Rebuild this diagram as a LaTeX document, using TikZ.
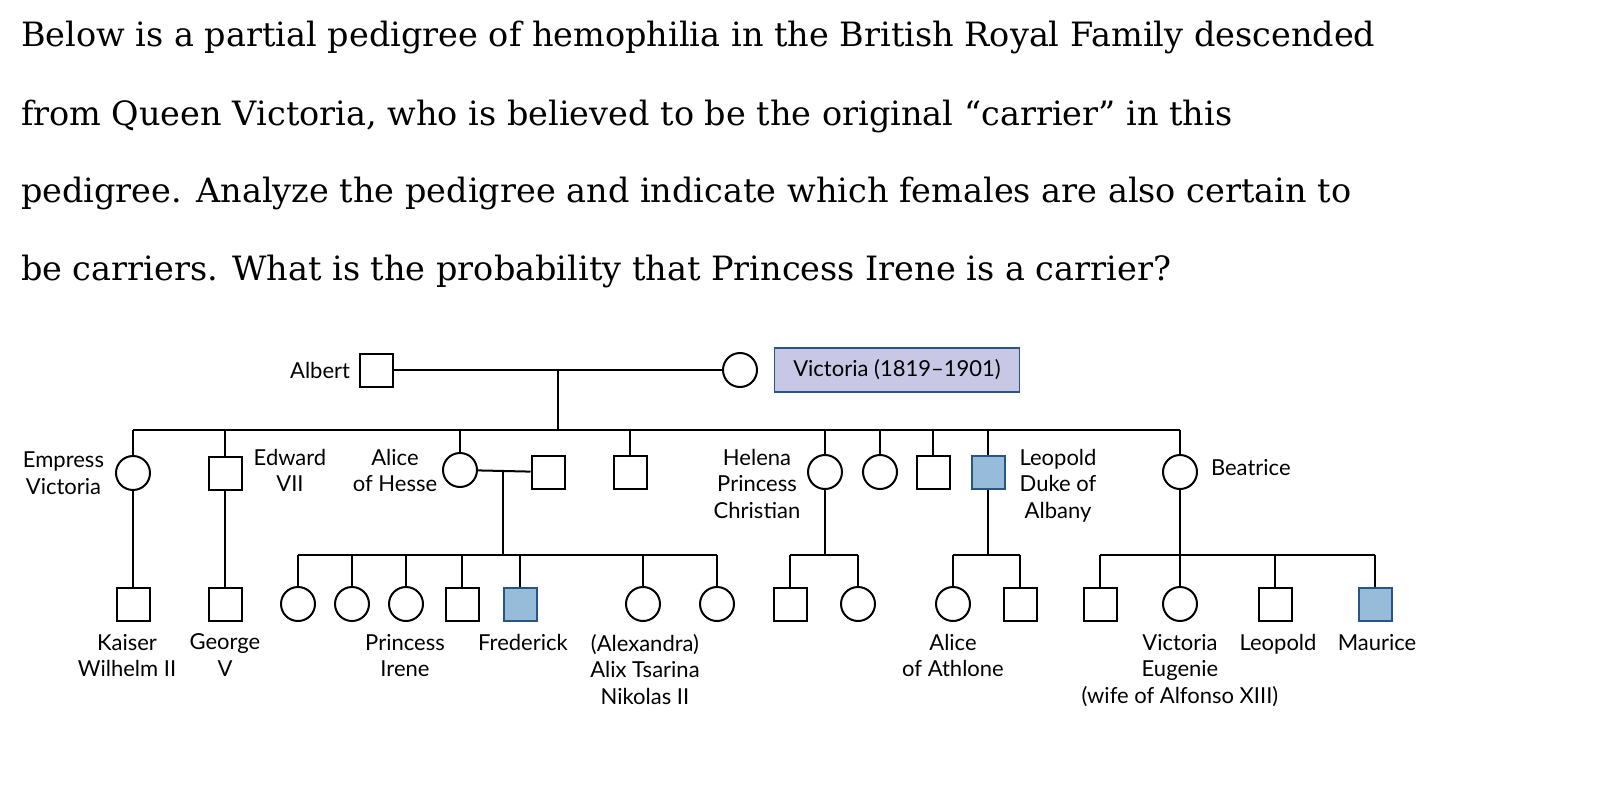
\documentclass[tikz,border=0pt]{standalone}
\usepackage{fontspec}
\setmainfont{DejaVu Serif}
\newfontfamily\lab{Lato}
\begin{document}
\begin{tikzpicture}[x=1pt,y=-1pt,line width=2pt,
  sq/.style={draw,minimum size=33pt,inner sep=0pt,fill=white},
  ci/.style={draw,circle,minimum size=34pt,inner sep=0pt,fill=white},
  aff/.style={sq,fill=aff,draw=affd},
  lb/.style={font=\lab\fontsize{22}{26.5}\selectfont,align=center,inner sep=0pt},
  tx/.style={anchor=base west,font=\fontsize{33.5}{36}\selectfont,inner sep=0pt}]
\definecolor{aff}{RGB}{150,188,218}
\definecolor{affd}{RGB}{40,85,135}
\definecolor{vbox}{RGB}{200,200,230}
\useasboundingbox (0,0) rectangle (1608,784);
\node[tx] (l1) at (20,47) {Below is a partial pedigree of hemophilia in the British Royal Family descended};
\node[tx] (l2) at (20,125) {from Queen Victoria, who is believed to be the original “carrier” in this};
\node[tx] (l3) at (20,202) {pedigree. Analyze the pedigree and indicate which females are also certain to};
\node[tx] (l4) at (20,280) {be carriers. What is the probability that Princess Irene is a carrier?};
\node[sq] (albert) at (376,370) {};
\node[ci] (vic) at (740,370) {};
\node[draw=affd,fill=vbox,line width=1.5pt,minimum width=245pt,minimum height=44pt,font=\lab\fontsize{22}{26}\selectfont] (vbx) at (897,370) {Victoria (1819–1901)};
\node[lb,anchor=east] (albl) at (351,370) {Albert};
\draw (albert) -- (vic);
\coordinate (m1) at (558,370);
\coordinate (s1) at (558,430);
\draw (m1) -- (s1);
\draw (133,430) -- (1180,430);
\node[ci] (ev) at (133,473) {};
\node[sq] (ed) at (225,473) {};
\node[ci] (al) at (460,470) {};
\node[sq] (alh) at (548,472) {};
\node[sq] (u1) at (630,472) {};
\node[ci] (he) at (825,472) {};
\node[ci] (c2) at (880,472) {};
\node[sq] (u2) at (933,472) {};
\node[aff] (leo) at (988,472) {};
\node[ci] (be) at (1180,472) {};
\foreach \n/\x in {ev/133,ed/225,al/460,u1/630,he/825,c2/880,u2/933,leo/988,be/1180}
  \draw (\x,430) -- (\n.north);
\draw (al) -- (alh);
\node[lb,anchor=east] at (105,473) {Empress\\Victoria};
\node[lb,anchor=north] at (290,448) {Edward\\VII};
\node[lb,anchor=north] at (395,448) {Alice\\of Hesse};
\node[lb,anchor=north] at (757,448) {Helena\\Princess\\Christian};
\node[lb,anchor=north] at (1058,448) {Leopold\\Duke of\\Albany};
\node[lb,anchor=west] at (1210,468) {Beatrice};
\node[sq] (kw) at (133,604) {};
\node[sq] (gv) at (225,604) {};
\draw (ev) -- (kw); \draw (ed) -- (gv);
\node[ci] (h1) at (298,604) {};
\node[ci] (h2) at (352,604) {};
\node[ci] (ir) at (406,604) {};
\node[sq] (h4) at (462,604) {};
\node[aff] (fr) at (520,604) {};
\node[ci] (ax) at (643,604) {};
\node[ci] (h7) at (717,604) {};
\coordinate (am) at (503,472);
\draw (am) -- (503,555);
\draw (298,555) -- (717,555);
\foreach \n/\x in {h1/298,ir/406,h2/352,h4/462,fr/520,ax/643,h7/717} \draw (\x,555) -- (\n.north);
\node[sq] (hc1) at (790,604) {};
\node[ci] (hc2) at (858,604) {};
\draw (he) -- (825,555); \draw (790,555) -- (858,555);
\foreach \n/\x in {hc1/790,hc2/858} \draw (\x,555) -- (\n.north);
\node[ci] (ath) at (953,604) {};
\node[sq] (lc2) at (1020,604) {};
\draw (leo) -- (988,555); \draw (953,555) -- (1020,555);
\foreach \n/\x in {ath/953,lc2/1020} \draw (\x,555) -- (\n.north);
\node[sq] (bc1) at (1100,604) {};
\node[ci] (ve) at (1180,604) {};
\node[sq] (lp) at (1275,604) {};
\node[aff] (mau) at (1375,604) {};
\draw (be) -- (1180,555); \draw (1100,555) -- (1375,555);
\foreach \n/\x in {bc1/1100,ve/1180,lp/1275,mau/1375} \draw (\x,555) -- (\n.north);
\node[lb,anchor=north] at (127,633) {Kaiser\\Wilhelm II};
\node[lb,anchor=north] at (225,633) {George\\V};
\node[lb,anchor=north] at (405,633) {Princess\\Irene};
\node[lb,anchor=north] at (523,633) {Frederick};
\node[lb,anchor=north] at (645,633) {(Alexandra)\\Alix Tsarina\\Nikolas II};
\node[lb,anchor=north] at (953,633) {Alice\\of Athlone};
\node[lb,anchor=north] at (1180,633) {Victoria\\Eugenie\\(wife of Alfonso XIII)};
\node[lb,anchor=north] at (1278,633) {Leopold};
\node[lb,anchor=north] at (1377,633) {Maurice};
\end{tikzpicture}
\end{document}
